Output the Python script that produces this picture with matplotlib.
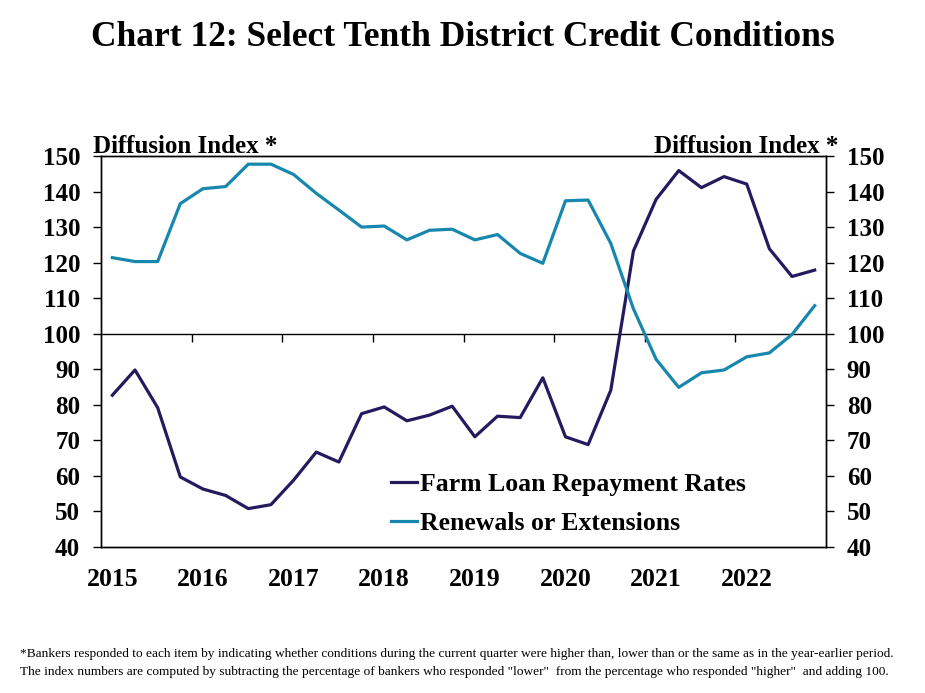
import matplotlib
matplotlib.use('Agg')
import matplotlib.pyplot as plt

# quarterly, 2015 Q1 - 2022 Q4
years = ['2015', '2016', '2017', '2018', '2019', '2020', '2021', '2022']
repayment = [82.7, 89.8, 79.2, 59.7, 56.3, 54.5, 50.8, 51.9,
             58.8, 66.7, 63.9, 77.5, 79.4, 75.5, 77.1, 79.6,
             71.0, 76.8, 76.4, 87.6, 71.0, 68.8, 84.1, 123.3,
             137.8, 145.9, 141.1, 144.2, 142.1, 123.9, 116.1, 117.9]
renewals = [121.4, 120.3, 120.3, 136.6, 140.8, 141.4, 147.7, 147.7,
            144.8, 139.5, 134.8, 130.0, 130.3, 126.4, 129.1, 129.4,
            126.4, 127.9, 122.6, 119.8, 137.4, 137.6, 125.4, 107.0,
            92.8, 84.9, 89.0, 89.8, 93.5, 94.6, 99.8, 107.9]
yticks = list(range(40, 151, 10))

navy = '#231B5E'
teal = '#1887AE'

plt.rcParams['font.family'] = ['Liberation Serif', 'DejaVu Serif']
plt.rcParams['font.weight'] = 'bold'

fig = plt.figure(figsize=(9.25, 6.93), dpi=100)
ax = fig.add_axes([0.1092, 0.2107, 0.7838, 0.5642])

x = list(range(len(repayment)))
ax.plot(x, repayment, color=navy, lw=2.3, label='Farm Loan Repayment Rates')
ax.plot(x, renewals, color=teal, lw=2.3, label='Renewals or Extensions')

ax.set_xlim(-0.5, len(x) - 0.5)
ax.set_ylim(40, 150)
ax.set_yticks(yticks)
ax.set_xticks(range(0, len(x), 4), years)
ax.tick_params(axis='x', length=0, pad=15, labelsize=18.5)
ax.tick_params(axis='y', length=6, width=1, pad=9, labelsize=18, direction='out')
for sp in ax.spines.values():
    sp.set_linewidth(1)

# right axis, same scale
ax2 = ax.twinx()
ax2.set_ylim(40, 150)
ax2.set_yticks(yticks)
ax2.tick_params(axis='y', length=6, width=1, pad=9, labelsize=18, direction='out')
for sp in ax2.spines.values():
    sp.set_linewidth(1)

# line at 100 with year separators
sec = ax.secondary_xaxis((100 - 40) / 110)
sec.set_alignment('bottom')
sec.set_xticks([i - 0.5 for i in range(4, len(x), 4)])
sec.tick_params(axis='x', length=6, width=1, direction='out', labelbottom=False)
sec.spines['bottom'].set_linewidth(1)

ax.legend(loc='upper left', bbox_to_anchor=(0.368, 0.248), frameon=False,
          handlelength=1.0, handletextpad=0.12, labelspacing=0.62,
          prop={'size': 18.5, 'weight': 'bold'})

fig.text(0.5, 0.946, 'Chart 12: Select Tenth District Credit Conditions',
         ha='center', va='center', fontsize=25.5, weight='bold')
fig.text(0.1005, 0.7795, 'Diffusion Index *', ha='left', va='baseline',
         fontsize=18, weight='bold')
fig.text(0.906, 0.7795, 'Diffusion Index *', ha='right', va='baseline',
         fontsize=18, weight='bold')

fig.text(0.022, 0.056,
         '*Bankers responded to each item by indicating whether conditions during the current '
         'quarter were higher than, lower than or the same as in the year-earlier period.',
         ha='left', va='center', fontsize=9.6, weight='normal')
fig.text(0.022, 0.031,
         'The index numbers are computed by subtracting the percentage of bankers who responded '
         '"lower"  from the percentage who responded "higher"  and adding 100.',
         ha='left', va='center', fontsize=9.6, weight='normal')

fig.savefig('out.png', dpi=100)
